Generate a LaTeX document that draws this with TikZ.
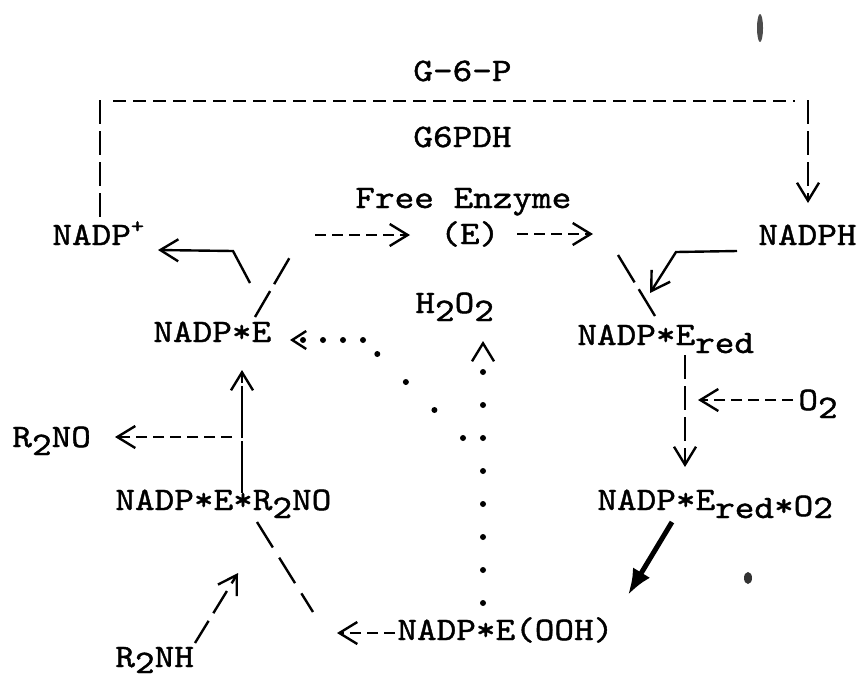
\documentclass[tikz,border=0pt]{standalone}
\usepackage{fontspec}
\newfontfamily\tw{lmmono10-regular.otf}[FakeStretch=1.14,FakeBold=1.2]
\usetikzlibrary{arrows.meta,calc}
\newcommand{\tief}[1]{\raisebox{-4pt}{#1}}

\begin{document}
\begin{tikzpicture}[x=0.5pt,y=-0.5pt,
        txt/.style={anchor=base west, inner sep=0pt, font=\tw\fontsize{16.4pt}{20pt}\selectfont},
        linie/.style={line width=1.2pt},
        hstrich/.style={line width=1.2pt, dash pattern=on 5.5pt off 3pt},
        vstrich/.style={line width=1.2pt, dash pattern=on 12pt off 3.5pt},
        punkte/.style={line width=3pt, line cap=round, dash pattern=on 0pt off 16.5pt},
        spitze/.style={-{Straight Barb[length=9pt,width=11pt,line width=1.2pt]}},
        kspitze/.style={-{Straight Barb[length=7pt,width=9pt,line width=1.2pt]}}]
        \useasboundingbox (0,0) rectangle (861,681);

        %Texte
        \node[txt] (g6p)   at (413,81)  {G-6-P};
        \node[txt] (gpdh)  at (413,147) {G6PDH};
        \node[txt] (free)  at (355,208) {Free Enzyme};
        \node[txt] (enz)   at (440,244) {(E)};
        \node[txt] (nadpp) at (52,245)  {NADP\raisebox{6pt}{\fontsize{11pt}{11pt}\selectfont +}};
        \node[txt] (nadph) at (758,245) {NADPH};
        \node[txt] (nadpe) at (153,342) {NADP*E};
        \node[txt] (hoo)   at (415,313) {H\tief{2}O\tief{2}};
        \node[txt] (ered)  at (577,345) {NADP*E\tief{red}};
        \node[txt] (rno)   at (12,447)  {R\tief{2}NO};
        \node[txt] (o2)    at (798,410) {O\tief{2}};
        \node[txt] (ernr)  at (115,510) {NADP*E*R\tief{2}NO};
        \node[txt] (eroo)  at (597,510) {NADP*E\tief{red}\raisebox{-3pt}{*O}\tief{2}};
        \node[txt] (ooh)   at (397,640) {NADP*E(OOH)};
        \node[txt] (rnh)   at (115,667) {R\raisebox{-3pt}{2}NH};

        %Kreislauf oben
        \coordinate (ol) at (100,100);
        \coordinate (or) at (808,100);
        \draw[vstrich] (ol) -- (ol |- nadpp.north);
        \draw[hstrich, dash pattern=on 6.5pt off 3.5pt] ($(ol)+(13,1)$) -- ($(or)+(-13,1)$);
        \draw[vstrich,spitze] (or) -- (808,203);

        %Pfeile am freien Enzym
        \draw[hstrich,spitze] (315,235) -- (410,235);
        \draw[hstrich,spitze] (517,234) -- (593,234);
        \draw[linie, dash pattern=on 15pt off 4pt] (255,317) -- (290,257);     %von NADP*E
        \draw[linie,spitze] (250,283) -- (233,251) -- (158,250);              %zu NADP+
        \draw[linie, dash pattern=on 16pt off 4pt] (618,255) -- (655,316);     %zu NADP*Ered
        \draw[linie,spitze] (737,251) -- (676,252) -- (650,293);              %von NADPH

        %rechte Seite
        \draw[vstrich,spitze] (685,355) -- (685,467);
        \draw[hstrich,spitze] (793,400) -- (698,400);
        \draw[line width=2.5pt, -{Latex[length=13pt,width=10pt]}] (672,522) -- (628,595);

        %linke Seite
        \draw[linie, dash pattern=on 26pt off 1.5pt, spitze] (242,493) -- (242,370);
        \draw[hstrich,spitze] (232,437) -- (115,437);
        \draw[linie, dash pattern=on 13pt off 4.5pt, spitze] (195,643) -- (238,573);
        \draw[linie, dash pattern=on 15pt off 6pt] (257,522) -- (313,612);
        \draw[hstrich,spitze] (395,633) -- (337,633);

        %Punkte
        \draw[punkte,spitze] (483,603) -- (483,341);
        \draw[punkte, dash pattern=on 0pt off 20pt] (463,438) -- (363,340);
        \draw[punkte, dash pattern=on 0pt off 10pt, kspitze] (363,340) -- (290,340);

        %Flecken
        \fill[black!70] (760,28) ellipse (1.5pt and 7pt);
        \fill[black!80] (748,578) ellipse (2pt and 3pt);
    \end{tikzpicture}
\end{document}
